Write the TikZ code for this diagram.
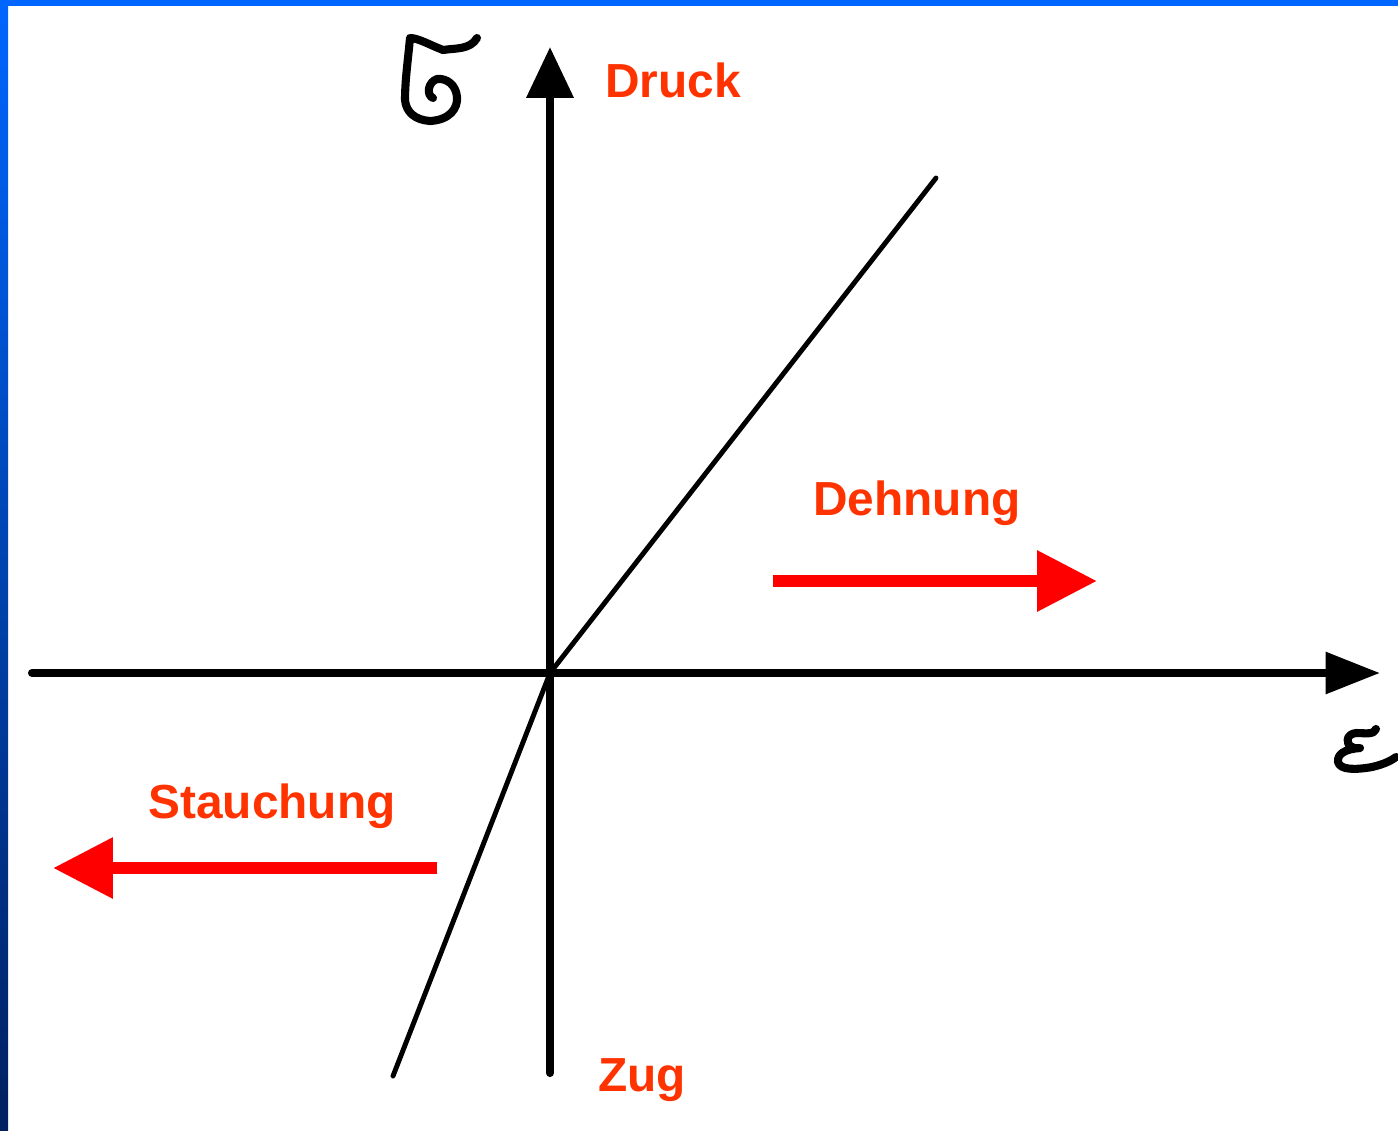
\documentclass[tikz,border=0pt]{standalone}
\usepackage{fontspec}
\setmainfont{Liberation Sans}
\usetikzlibrary{arrows.meta}
\definecolor{rahmen}{HTML}{0066FF}
\definecolor{rahmendunkel}{HTML}{002060}
\definecolor{textrot}{HTML}{FF3300}
\tikzset{
	achse/.style={line width=2.3pt, line cap=round},
	kennlinie/.style={line width=1.4pt, line cap=round},
	richtung/.style={red, line width=3.4pt, -{Triangle[length=17pt,width=16.5pt]}},
	beschriftung/.style={textrot, font=\fontsize{13.6}{16}\selectfont\bfseries},
	hand/.style={line width=2.3pt, line cap=round, line join=round}
}
\begin{document}
\begin{tikzpicture}[x=0.01cm, y=-0.01cm, line join=round, >=stealth]
	\def\xl{32} % Achsen
	\def\xr{1380}
	\def\yo{47}
	\def\yu{1073}
	\useasboundingbox (0,0) rectangle (1398,1130);
	\fill[white] (0,0) rectangle (1398,1130);
	% Rahmen
	\fill[rahmen] (0,0) rectangle (1398,6);
	\shade[top color=rahmen, bottom color=rahmendunkel] (0,0) rectangle (8,1130);
	% Achsen
	\coordinate (O) at (550,673);
	\coordinate (links) at (\xl,673);
	\coordinate (rechts) at (\xr,673);
	\coordinate (oben) at (550,\yo);
	\coordinate (unten) at (550,\yu);
	\draw[achse, -{Triangle[length=15.5pt,width=11.5pt]}] (links) -- (rechts);
	\draw[achse, -{Triangle[length=14.5pt,width=13pt]}] (unten) -- (oben);
	% Kennlinie
	\coordinate (A) at (393,1076);
	\coordinate (B) at (936,178);
	\draw[kennlinie] (A) -- (O) -- (B);
	% Richtungspfeile
	\coordinate (d1) at (773,581);
	\coordinate (d2) at (1097,581);
	\coordinate (s1) at (437,868);
	\coordinate (s2) at (53,868);
	\draw[richtung] (d1) -- (d2);
	\draw[richtung] (s1) -- (s2);
	% Beschriftungen
	\node[beschriftung] (druck) at (673,80) {Druck};
	\node[beschriftung] (zug) at (642,1080) {Zug};
	\node[beschriftung] (dehnung) at (917,503) {Dehnung};
	\node[beschriftung] (stauchung) at (272,806) {Stauchung};
	% sigma
	\draw[hand] (477,38) .. controls (470,50) and (455,48) .. (443,50)
		.. controls (430,45) and (418,38) .. (410,38)
		.. controls (408,60) and (405,80) .. (405,100)
		.. controls (406,112) and (415,120) .. (430,121)
		.. controls (450,120) and (458,108) .. (457,97)
		.. controls (456,85) and (447,78) .. (437,79)
		.. controls (428,82) and (426,95) .. (433,98);
	% epsilon
	\draw[hand] (1376,729) .. controls (1374,735) and (1365,733) .. (1356,733)
		.. controls (1346,734) and (1345,744) .. (1352,747)
		.. controls (1356,749) and (1360,748) .. (1360,748)
		.. controls (1345,749) and (1337,754) .. (1338,762)
		.. controls (1340,770) and (1355,770) .. (1372,767)
		.. controls (1385,764) and (1392,760) .. (1396,757);
\end{tikzpicture}
\end{document}
